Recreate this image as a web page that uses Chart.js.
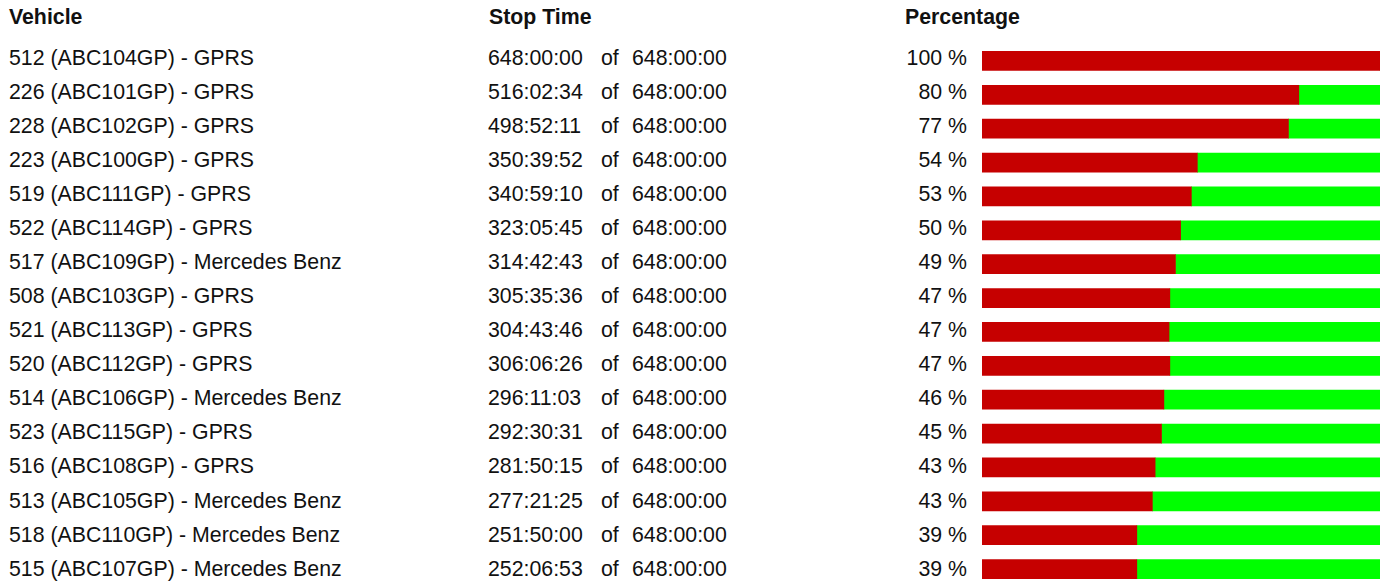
<!DOCTYPE html>
<html>
<head>
<meta charset="utf-8">
<script src="https://cdn.jsdelivr.net/npm/chart.js@4/dist/chart.umd.min.js"></script>
<style>
    html, body { margin: 0; padding: 0; width: 1386px; height: 584px; overflow: hidden; background: #fff; }
    body { position: relative; font-family: "Liberation Sans", Arial, sans-serif; font-size: 21.3px; color: #111; }
    .cell { position: absolute; line-height: 34px; white-space: nowrap; }
    .head { font-weight: bold; top: 0; }
    .pct { text-align: right; width: 80px; left: 887px; }
    #chartBox { position: absolute; left: 982px; top: 44px; width: 398px; height: 542px; }
</style>
</head>
<body>
<div class="cell head" style="left:9px">Vehicle</div>
<div class="cell head" style="left:489px">Stop Time</div>
<div class="cell head" style="left:905px">Percentage</div>
<div id="rows"></div>
<div id="chartBox"><canvas id="barChart"></canvas></div>
<script>
const vehicles = [
    '512 (ABC104GP) - GPRS', '226 (ABC101GP) - GPRS', '228 (ABC102GP) - GPRS', '223 (ABC100GP) - GPRS',
    '519 (ABC111GP) - GPRS', '522 (ABC114GP) - GPRS', '517 (ABC109GP) - Mercedes Benz', '508 (ABC103GP) - GPRS',
    '521 (ABC113GP) - GPRS', '520 (ABC112GP) - GPRS', '514 (ABC106GP) - Mercedes Benz', '523 (ABC115GP) - GPRS',
    '516 (ABC108GP) - GPRS', '513 (ABC105GP) - Mercedes Benz', '518 (ABC110GP) - Mercedes Benz', '515 (ABC107GP) - Mercedes Benz'
];
const stopTimes = [
    '648:00:00', '516:02:34', '498:52:11', '350:39:52', '340:59:10', '323:05:45', '314:42:43', '305:35:36',
    '304:43:46', '306:06:26', '296:11:03', '292:30:31', '281:50:15', '277:21:25', '251:50:00', '252:06:53'
];
const totalTime = '648:00:00';
const pctLabels = ['100 %', '80 %', '77 %', '54 %', '53 %', '50 %', '49 %', '47 %', '47 %', '47 %', '46 %', '45 %', '43 %', '43 %', '39 %', '39 %'];
const stoppedPct = [100, 79.6, 77.0, 54.1, 52.6, 49.9, 48.6, 47.2, 47.0, 47.2, 45.7, 45.1, 43.5, 42.8, 38.9, 38.9];
const remainingPct = [0, 20.4, 23.0, 45.9, 47.4, 50.1, 51.4, 52.8, 53.0, 52.8, 54.3, 54.9, 56.5, 57.2, 61.1, 61.1];

const rowsDiv = document.getElementById('rows');

// text rows follow the bar rows, with a slightly taller pitch like the original table
const rowTextPlugin = {
    id: 'rowText',
    afterRender(chart) {
        if (rowsDiv.childElementCount) return;
        const yScale = chart.scales.y;
        const boxTop = chart.canvas.parentNode.offsetTop;
        vehicles.forEach((name, i) => {
            const top = boxTop + yScale.getPixelForValue(i) - 20.3 + i * 0.195;
            const cells = [
                ['left:9px', name],
                ['left:488px', stopTimes[i]],
                ['left:601px', 'of'],
                ['left:632px', totalTime]
            ];
            cells.forEach(c => {
                const d = document.createElement('div');
                d.className = 'cell';
                d.style.cssText = c[0] + ';top:' + top + 'px';
                d.textContent = c[1];
                rowsDiv.appendChild(d);
            });
            const p = document.createElement('div');
            p.className = 'cell pct';
            p.style.top = top + 'px';
            p.textContent = pctLabels[i];
            rowsDiv.appendChild(p);
        });
    }
};

new Chart(document.getElementById('barChart'), {
    type: 'bar',
    data: {
        labels: vehicles,
        datasets: [
            { label: 'Stopped', data: stoppedPct, backgroundColor: '#C60000', barThickness: 19 },
            { label: 'Remaining', data: remainingPct, backgroundColor: '#00FF00', barThickness: 19 }
        ]
    },
    options: {
        indexAxis: 'y',
        responsive: true,
        maintainAspectRatio: false,
        animation: false,
        layout: { padding: 0 },
        plugins: { legend: { display: false }, tooltip: { enabled: false } },
        scales: {
            x: { stacked: true, min: 0, max: 100, display: false },
            y: { stacked: true, display: false }
        }
    },
    plugins: [rowTextPlugin]
});
</script>
</body>
</html>
